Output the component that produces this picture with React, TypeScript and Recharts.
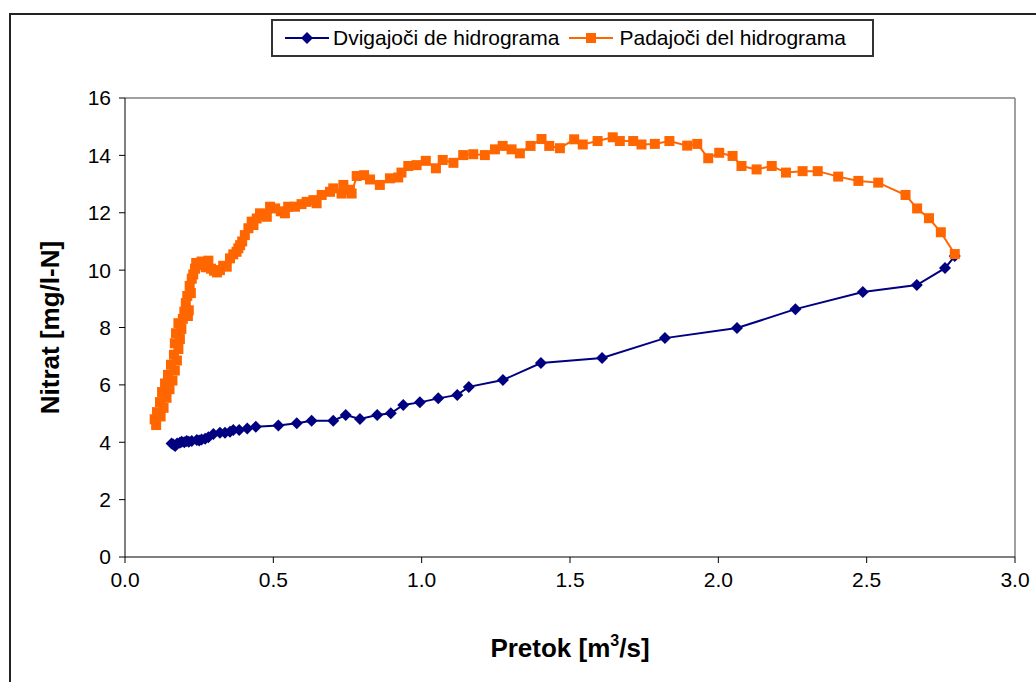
import React from 'react';
import {
  ScatterChart,
  Scatter,
  XAxis,
  YAxis,
  ReferenceLine,
  Legend,
} from 'recharts';

// Rising limb of the hydrograph: discharge [m3/s] and nitrate [mg/l-N]
const riseQ = [
  0.157, 0.163, 0.169, 0.176, 0.185, 0.191, 0.2, 0.208, 0.215, 0.225, 0.242, 0.25,
  0.258, 0.27, 0.281, 0.298, 0.32, 0.337, 0.354, 0.365, 0.385, 0.412, 0.441, 0.517,
  0.579, 0.629, 0.702, 0.744, 0.792, 0.85, 0.896, 0.938, 0.994, 1.056, 1.12, 1.159,
  1.274, 1.402, 1.608, 1.82, 2.063, 2.26, 2.487, 2.669, 2.764, 2.797,
];
const riseN = [
  3.96, 3.92, 3.87, 3.96, 3.98, 4.02, 4.0, 4.04, 4.02, 4.04, 4.08, 4.06,
  4.1, 4.12, 4.17, 4.29, 4.33, 4.33, 4.37, 4.43, 4.43, 4.48, 4.54, 4.58,
  4.66, 4.75, 4.75, 4.95, 4.81, 4.95, 5.01, 5.3, 5.39, 5.53, 5.65, 5.93,
  6.17, 6.76, 6.94, 7.63, 7.98, 8.64, 9.24, 9.48, 10.07, 10.49,
];

// Falling limb, in time order from the peak back to low flow
const fallQ = [
  2.797, 2.75, 2.71, 2.67, 2.631, 2.539, 2.472, 2.404, 2.335, 2.284, 2.228, 2.18,
  2.129, 2.078, 2.048, 2.003, 1.966, 1.929, 1.895, 1.835, 1.786, 1.741, 1.713, 1.668,
  1.644, 1.593, 1.543, 1.514, 1.466, 1.43, 1.404, 1.367, 1.331, 1.303, 1.273, 1.247,
  1.213, 1.174, 1.14, 1.107, 1.071, 1.048, 1.014, 0.983, 0.955, 0.932, 0.921, 0.893,
  0.859, 0.826, 0.806, 0.781, 0.764, 0.758, 0.736, 0.73, 0.702, 0.691, 0.663, 0.646,
  0.635, 0.612, 0.595, 0.573, 0.55, 0.539, 0.525, 0.506, 0.489, 0.478, 0.466, 0.455,
  0.444, 0.433, 0.427, 0.416, 0.404, 0.395, 0.388, 0.382, 0.376, 0.365, 0.354, 0.343,
  0.331, 0.32, 0.31, 0.3, 0.29, 0.281, 0.272, 0.265, 0.258, 0.248, 0.24, 0.236,
  0.23, 0.225, 0.218, 0.222, 0.21, 0.205, 0.215, 0.2, 0.212, 0.195, 0.18, 0.19,
  0.172, 0.185, 0.168, 0.18, 0.165, 0.175, 0.155, 0.168, 0.145, 0.16, 0.135, 0.15,
  0.125, 0.14, 0.118, 0.13, 0.108, 0.12, 0.1, 0.112, 0.105,
];
const fallN = [
  10.56, 11.32, 11.81, 12.15, 12.62, 13.05, 13.11, 13.26, 13.45, 13.45, 13.4, 13.63,
  13.51, 13.63, 13.98, 14.09, 13.9, 14.4, 14.34, 14.5, 14.4, 14.38, 14.5, 14.5,
  14.63, 14.5, 14.38, 14.56, 14.25, 14.33, 14.57, 14.33, 14.07, 14.21, 14.33, 14.21,
  14.01, 14.04, 14.01, 13.74, 13.84, 13.55, 13.81, 13.66, 13.63, 13.4, 13.23, 13.2,
  12.97, 13.16, 13.31, 13.28, 12.67, 12.8, 12.97, 12.67, 12.85, 12.73, 12.62, 12.33,
  12.44, 12.38, 12.3, 12.21, 12.21, 11.98, 12.05, 12.15, 12.21, 11.86, 11.92, 11.98,
  11.8, 11.57, 11.69, 11.46, 11.22, 11.0, 10.87, 10.76, 10.64, 10.55, 10.41, 10.12,
  10.15, 10.0, 9.92, 9.98, 10.05, 10.33, 10.1, 10.22, 10.3, 10.18, 10.25, 10.05,
  9.85, 9.7, 9.45, 9.2, 9.1, 8.85, 8.6, 8.55, 8.4, 8.3, 8.15, 7.95,
  7.8, 7.6, 7.45, 7.25, 7.05, 6.85, 6.7, 6.5, 6.35, 6.15, 6.05, 5.85,
  5.75, 5.55, 5.4, 5.2, 5.05, 4.9, 4.8, 4.95, 4.6,
];

const xTicks = [0, 0.5, 1, 1.5, 2, 2.5, 3];
const yTicks = [0, 2, 4, 6, 8, 10, 12, 14, 16];

const rising = riseQ.map((q, i) => ({ q, n: riseN[i] }));
const falling = fallQ.map((q, i) => ({ q, n: fallN[i] }));

const BLUE = '#000080';
const ORANGE = '#FF6600';
const FONT = '"Liberation Sans", Arial, sans-serif';

const Diamond = (props: any) => {
  const { cx, cy } = props;
  const r = 6;
  return (
    <path
      d={`M${cx},${cy - r}L${cx + r},${cy}L${cx},${cy + r}L${cx - r},${cy}Z`}
      fill={BLUE}
    />
  );
};

const Square = (props: any) => {
  const { cx, cy } = props;
  return <rect x={cx - 5} y={cy - 5} width={10} height={10} fill={ORANGE} />;
};

const LegendBox = () => (
  <div
    style={{
      border: '2px solid #333',
      background: '#fff',
      height: 38,
      display: 'flex',
      alignItems: 'center',
      fontFamily: FONT,
      fontSize: 21,
      color: '#000',
      boxSizing: 'border-box',
      paddingLeft: 12,
    }}
  >
    <svg width={44} height={16}>
      <line x1={0} y1={8} x2={44} y2={8} stroke={BLUE} strokeWidth={2} />
      <path d="M22,2L28,8L22,14L16,8Z" fill={BLUE} />
    </svg>
    <span style={{ marginLeft: 4, marginRight: 10 }}>Dvigajoči de hidrograma</span>
    <svg width={44} height={16}>
      <line x1={0} y1={8} x2={44} y2={8} stroke={ORANGE} strokeWidth={2} />
      <rect x={17} y={3} width={10} height={10} fill={ORANGE} />
    </svg>
    <span style={{ marginLeft: 6 }}>Padajoči del hidrograma</span>
  </div>
);

const Y_AXIS_W = 60;
const X_AXIS_H = 40;

export default function App() {
  return (
    <div
      style={{
        position: 'fixed',
        left: 0,
        top: 0,
        width: 1036,
        height: 682,
        overflow: 'hidden',
        background: '#fff',
      }}
    >
      <div
        style={{
          position: 'absolute',
          left: 9,
          top: 13,
          width: 1100,
          height: 800,
          border: '2px solid #222',
        }}
      />
      <div style={{ position: 'absolute', left: 0, top: 0 }}>
        <ScatterChart
          width={1036}
          height={682}
          margin={{ top: 98, right: 21, bottom: 125 - X_AXIS_H, left: 125 - Y_AXIS_W }}
        >
          <XAxis
            type="number"
            dataKey="q"
            domain={[0, 3]}
            ticks={xTicks}
            tickFormatter={(v: number) => v.toFixed(1)}
            height={X_AXIS_H}
            tickSize={6}
            tickMargin={9}
            axisLine={{ stroke: '#000' }}
            tickLine={{ stroke: '#000' }}
            tick={{ fill: '#000', fontSize: 21, fontFamily: FONT }}
            label={{
              content: (p: any) => {
                const vb = p.viewBox;
                return (
                  <text
                    x={vb.x + vb.width / 2}
                    y={657}
                    textAnchor="middle"
                    fontFamily={FONT}
                    fontWeight="bold"
                    fontSize={26}
                    fill="#000"
                  >
                    Pretok [m
                    <tspan dy={-11} fontSize={16}>3</tspan>
                    <tspan dy={11}>/s]</tspan>
                  </text>
                );
              },
            }}
          />
          <YAxis
            type="number"
            dataKey="n"
            domain={[0, 16]}
            ticks={yTicks}
            width={Y_AXIS_W}
            tickSize={6}
            tickMargin={8}
            axisLine={{ stroke: '#000' }}
            tickLine={{ stroke: '#000' }}
            tick={{ fill: '#000', fontSize: 21, fontFamily: FONT }}
            label={{
              content: (p: any) => {
                const vb = p.viewBox;
                const cy = vb.y + vb.height / 2;
                return (
                  <text
                    x={50}
                    y={cy}
                    transform={`rotate(-90, 50, ${cy})`}
                    textAnchor="middle"
                    dominantBaseline="central"
                    fontFamily={FONT}
                    fontWeight="bold"
                    fontSize={26}
                    fill="#000"
                  >
                    Nitrat [mg/l-N]
                  </text>
                );
              },
            }}
          />
          <ReferenceLine y={16} stroke="#808080" strokeWidth={1.5} />
          <ReferenceLine x={3} stroke="#808080" strokeWidth={1.5} />
          <Legend
            layout="horizontal"
            verticalAlign="middle"
            align="center"
            wrapperStyle={{ top: 19, left: 271, width: 603, height: 38 }}
            content={() => <LegendBox />}
          />
          <Scatter
            name="Dvigajoči de hidrograma"
            data={rising}
            line={{ stroke: BLUE, strokeWidth: 2 }}
            lineType="joint"
            shape={Diamond}
            isAnimationActive={false}
          />
          <Scatter
            name="Padajoči del hidrograma"
            data={falling}
            line={{ stroke: ORANGE, strokeWidth: 2 }}
            lineType="joint"
            shape={Square}
            isAnimationActive={false}
          />
        </ScatterChart>
      </div>
    </div>
  );
}
